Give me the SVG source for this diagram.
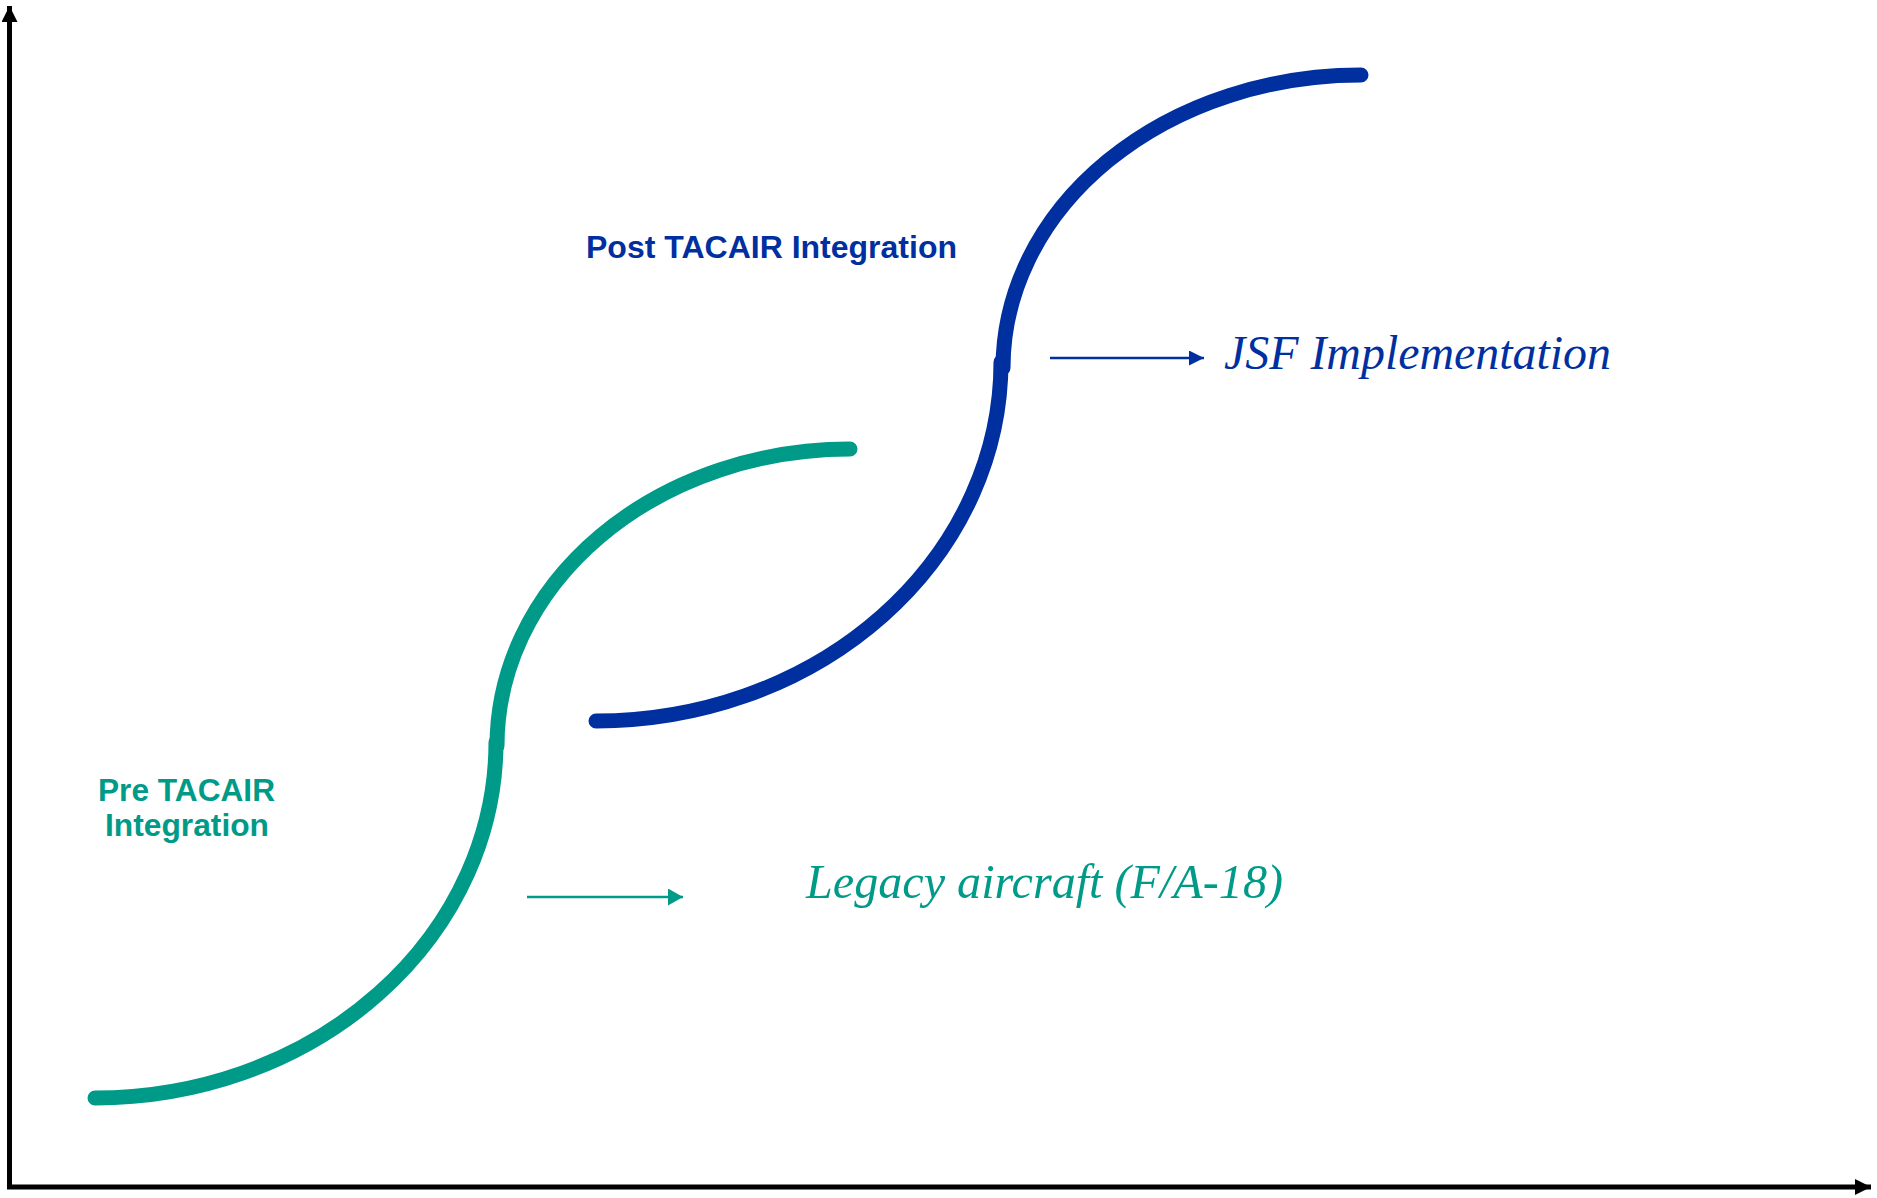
<svg xmlns="http://www.w3.org/2000/svg" width="1877" height="1198" viewBox="0 0 1877 1198">
<style>
.teal{stroke:#009A88;fill:none;stroke-width:15;stroke-linecap:round}
.blue{stroke:#0030A0;fill:none;stroke-width:15;stroke-linecap:round}
.axis{stroke:#000;stroke-width:5;fill:none}
.lbl{font-family:"Liberation Sans",Arial,sans-serif;font-weight:bold}
.it{font-family:"Liberation Serif","Times New Roman",serif;font-style:italic}
</style>
<defs>
<marker id="ah-black" markerUnits="userSpaceOnUse" viewBox="0 0 16 16" refX="16" refY="8" markerWidth="16" markerHeight="16" orient="auto"><path d="M0,0 L16,8 L0,16 Z" fill="#000"/></marker>
<marker id="ah-blue" markerUnits="userSpaceOnUse" viewBox="0 0 15 15" refX="15" refY="7.5" markerWidth="15" markerHeight="15" orient="auto"><path d="M0,0 L15,7.5 L0,15 Z" fill="#0030A0"/></marker>
<marker id="ah-teal" markerUnits="userSpaceOnUse" viewBox="0 0 15 17" refX="15" refY="8.5" markerWidth="15" markerHeight="17" orient="auto"><path d="M0,0 L15,8.5 L0,17 Z" fill="#009A88"/></marker>
</defs>
<g id="axes">
<path class="axis" d="M9.5,1187 L9.5,6" marker-end="url(#ah-black)"/>
<path class="axis" d="M7,1187 L1871,1187" marker-end="url(#ah-black)"/>
</g>
<g id="curve-pre">
<path class="teal" d="M95,1098 A401,356 0 0 0 496,742"/>
<path class="teal" d="M497,746 A353,297 0 0 1 850,449"/>
</g>
<g id="curve-post">
<path class="blue" d="M596,721 A405,359 0 0 0 1001,362"/>
<path class="blue" d="M1003,368 A358,293 0 0 1 1361,75"/>
</g>
<g id="connectors">
<path d="M1050,358 L1204,358" stroke="#0030A0" stroke-width="2.7" fill="none" marker-end="url(#ah-blue)"/>
<path d="M527,897 L683,897" stroke="#009A88" stroke-width="2.7" fill="none" marker-end="url(#ah-teal)"/>
</g>
<g id="label-post"><text class="lbl" x="586" y="258" font-size="31" fill="#0030A0" textLength="371" lengthAdjust="spacingAndGlyphs">Post TACAIR Integration</text></g>
<g id="label-pre"><text class="lbl" font-size="32" fill="#009A88"><tspan x="98" y="801" textLength="177" lengthAdjust="spacingAndGlyphs">Pre TACAIR</tspan><tspan x="105" y="836" textLength="164" lengthAdjust="spacingAndGlyphs">Integration</tspan></text></g>
<g id="label-jsf"><text class="it" x="1224" y="369" font-size="48" fill="#0030A0" textLength="387" lengthAdjust="spacingAndGlyphs">JSF Implementation</text></g>
<g id="label-legacy"><text class="it" x="806" y="898" font-size="48" fill="#009A88" textLength="477" lengthAdjust="spacingAndGlyphs">Legacy aircraft (F/A-18)</text></g>
</svg>
